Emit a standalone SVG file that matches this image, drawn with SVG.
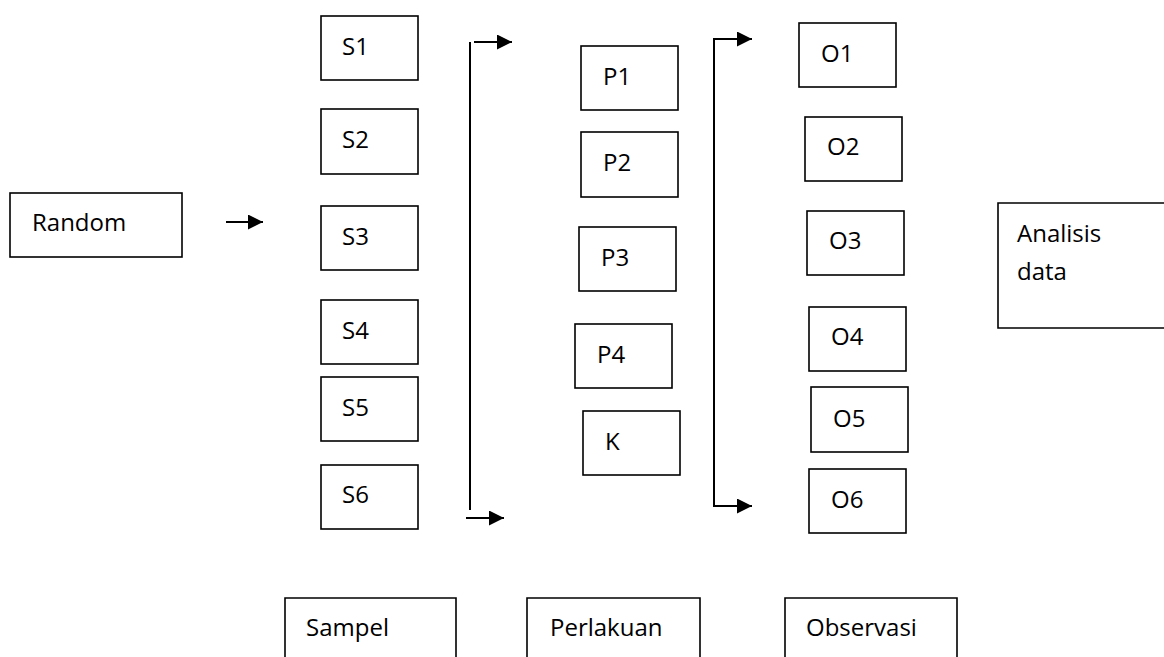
<svg xmlns="http://www.w3.org/2000/svg" width="1164" height="657" viewBox="0 0 1164 657">
<defs>
<style>
.box{fill:#fff;stroke:#000;stroke-width:1.6}
.lbl{font-family:"Open Sans","Noto Sans",sans-serif;font-size:24px;fill:#000}
.con{fill:none;stroke:#000;stroke-width:2}
</style>
<marker id="ah" markerWidth="15" markerHeight="15" refX="15" refY="7.5" orient="auto" markerUnits="userSpaceOnUse">
<path d="M0,0 L15,7.5 L0,15 Z" fill="#000"/>
</marker>
</defs>
<rect width="1164" height="657" fill="#fff"/>
<g id="random"><rect class="box" x="10" y="193" width="172" height="64"/><text class="lbl" x="32" y="231">Random</text></g>
<g id="s1"><rect class="box" x="321" y="16" width="97" height="64"/><text class="lbl" x="342" y="55">S1</text></g>
<g id="s2"><rect class="box" x="321" y="109" width="97" height="65"/><text class="lbl" x="342" y="148">S2</text></g>
<g id="s3"><rect class="box" x="321" y="206" width="97" height="64"/><text class="lbl" x="342" y="245">S3</text></g>
<g id="s4"><rect class="box" x="321" y="300" width="97" height="64"/><text class="lbl" x="342" y="339">S4</text></g>
<g id="s5"><rect class="box" x="321" y="377" width="97" height="64"/><text class="lbl" x="342" y="416">S5</text></g>
<g id="s6"><rect class="box" x="321" y="465" width="97" height="64"/><text class="lbl" x="342" y="503">S6</text></g>
<g id="p1"><rect class="box" x="581" y="46" width="97" height="64"/><text class="lbl" x="603" y="85">P1</text></g>
<g id="p2"><rect class="box" x="581" y="132" width="97" height="65"/><text class="lbl" x="603" y="171">P2</text></g>
<g id="p3"><rect class="box" x="579" y="227" width="97" height="64"/><text class="lbl" x="601" y="266">P3</text></g>
<g id="p4"><rect class="box" x="575" y="324" width="97" height="64"/><text class="lbl" x="597" y="363">P4</text></g>
<g id="k"><rect class="box" x="583" y="411" width="97" height="64"/><text class="lbl" x="605" y="450">K</text></g>
<g id="o1"><rect class="box" x="799" y="23" width="97" height="64"/><text class="lbl" x="821" y="62">O1</text></g>
<g id="o2"><rect class="box" x="805" y="117" width="97" height="64"/><text class="lbl" x="827" y="155">O2</text></g>
<g id="o3"><rect class="box" x="807" y="211" width="97" height="64"/><text class="lbl" x="829" y="249">O3</text></g>
<g id="o4"><rect class="box" x="809" y="307" width="97" height="64"/><text class="lbl" x="831" y="345">O4</text></g>
<g id="o5"><rect class="box" x="811" y="387" width="97" height="65"/><text class="lbl" x="833" y="427">O5</text></g>
<g id="o6"><rect class="box" x="809" y="469" width="97" height="64"/><text class="lbl" x="831" y="508">O6</text></g>
<g id="analisis"><path class="box" d="M1170,203 H998 V328 H1170"/><text class="lbl" x="1017" y="242">Analisis</text><text class="lbl" x="1017" y="280">data</text></g>
<g id="sampel"><path class="box" d="M285,660 V598 H456 V660"/><text class="lbl" x="306" y="636">Sampel</text></g>
<g id="perlakuan"><path class="box" d="M527,660 V598 H700 V660"/><text class="lbl" x="550" y="636">Perlakuan</text></g>
<g id="observasi"><path class="box" d="M785,660 V598 H957 V660"/><text class="lbl" x="806" y="636">Observasi</text></g>
<g id="connectors">
<line class="con" x1="226" y1="222" x2="263" y2="222" marker-end="url(#ah)"/>
<line class="con" x1="470" y1="42" x2="470" y2="510"/>
<line class="con" x1="474" y1="42" x2="512" y2="42" marker-end="url(#ah)"/>
<line class="con" x1="466" y1="518" x2="504" y2="518" marker-end="url(#ah)"/>
<path class="con" d="M752,39 H714 V506 H752"/>
<line class="con" x1="714" y1="39" x2="752" y2="39" marker-end="url(#ah)"/>
<line class="con" x1="714" y1="506" x2="752" y2="506" marker-end="url(#ah)"/>
</g>
</svg>
